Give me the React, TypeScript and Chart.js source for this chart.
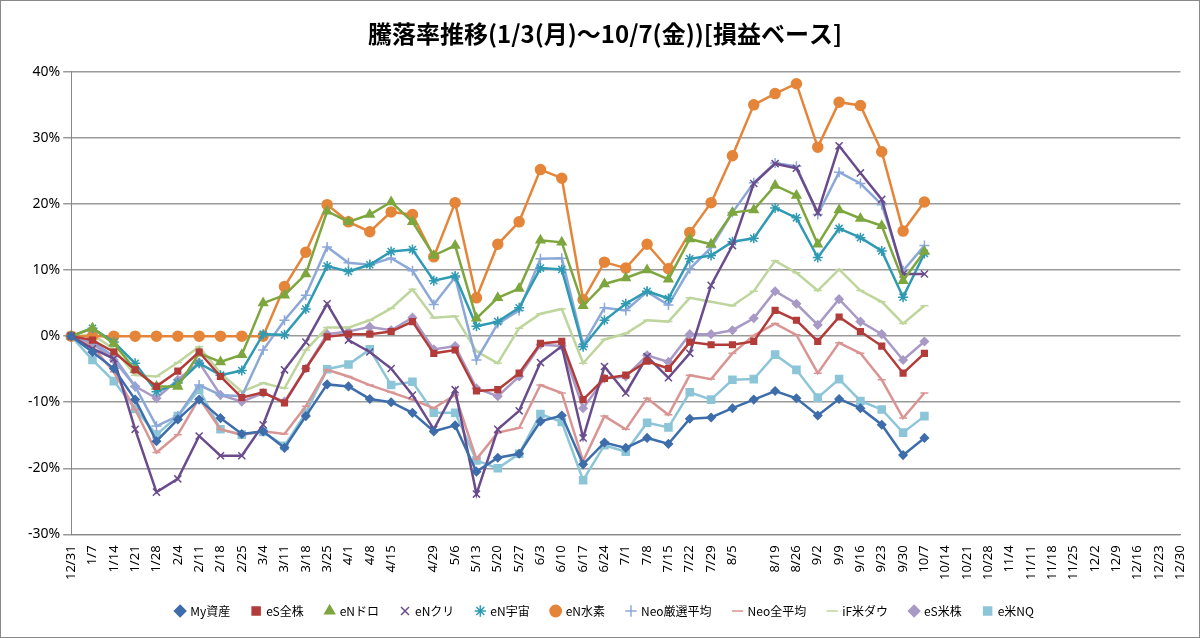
import React, { useEffect, useRef } from "react";
import { Chart, registerables } from "chart.js";
Chart.register(...registerables);

const labels = ["12/31","1/7","1/14","1/21","1/28","2/4","2/11","2/18","2/25","3/4","3/11","3/18","3/25","4/1","4/8","4/15","4/22","4/29","5/6","5/13","5/20","5/27","6/3","6/10","6/17","6/24","7/1","7/8","7/15","7/22","7/29","8/5","8/12","8/19","8/26","9/2","9/9","9/16","9/23","9/30","10/7","10/14","10/21","10/28","11/4","11/11","11/18","11/25","12/2","12/9","12/16","12/23","12/30"];
const hiddenLabels = ["4/22", "8/12"];

const myAsset = [0,-2.4,-4.9,-9.6,-15.9,-12.6,-9.6,-12.4,-14.8,-14.4,-16.9,-12.1,-7.3,-7.6,-9.5,-10,-11.6,-14.4,-13.5,-20.5,-18.4,-17.8,-12.9,-12,-19.4,-16.1,-16.9,-15.4,-16.3,-12.5,-12.3,-10.9,-9.6,-8.3,-9.4,-12,-9.5,-10.9,-13.4,-18,-15.4];
const esAll = [0,-0.6,-2.4,-5.1,-7.6,-5.3,-2.4,-6.1,-9.3,-8.5,-10.1,-4.9,-0.1,0.3,0.3,0.7,2.2,-2.6,-2.1,-8.3,-8.1,-5.6,-1.1,-0.8,-9.6,-6.4,-5.9,-3.8,-4.9,-0.9,-1.3,-1.3,-0.8,3.9,2.4,-0.8,2.9,0.7,-1.5,-5.6,-2.6];
const enDoro = [0,1.2,-1.1,-5.1,-7.6,-7.6,-2.6,-3.9,-2.8,5,6.2,9.4,18.9,17.3,18.4,20.3,17.3,12.2,13.7,2.7,5.8,7.2,14.5,14.2,4.6,7.9,8.8,10,8.6,14.7,13.9,18.7,19.1,22.8,21.3,13.9,19.1,17.8,16.7,8.4,12.8];
const enKuri = [0,-1.9,-3.4,-14.1,-23.6,-21.6,-15.1,-18.1,-18.1,-13.4,-5.1,-0.9,4.9,-0.6,-2.4,-4.9,-8.9,-14.1,-8.1,-23.9,-14.1,-11.3,-4,-1.5,-15.4,-4.6,-8.6,-3.1,-6.3,-2.6,7.7,13.7,23.1,26.1,25.4,18.7,28.8,24.7,20.7,9.4,9.4];
const enUchu = [0,1.2,-0.9,-4.1,-8.4,-7.1,-4.1,-5.9,-5.2,0.3,0.2,4.1,10.6,9.8,10.8,12.8,13.1,8.4,9.1,1.5,2.2,4.3,10.3,10.1,-1.6,2.4,4.9,6.8,5.7,11.7,12.2,14.3,14.8,19.4,17.9,11.9,16.3,14.9,12.9,5.9,12.5];
const enSuiso = [0,0,0,0,0,0,0,0,0,0,7.5,12.7,19.9,17.3,15.8,18.8,18.4,12,20.2,5.8,13.9,17.3,25.2,23.9,5.5,11.2,10.3,13.9,10.2,15.7,20.2,27.3,35,36.7,38.2,28.6,35.4,34.9,27.9,15.9,20.3];
const neoSelect = [0,-0.8,-3.1,-7.6,-13.6,-12.1,-7.4,-8.9,-9.1,-2.1,2.4,6.2,13.5,11.1,10.8,11.8,9.9,4.8,8.9,-3.6,1.9,3.9,11.7,11.8,-1.3,4.3,3.9,6.7,4.7,10.2,13.4,18.7,23.2,26.2,25.7,18.4,24.8,23.1,19.9,9.9,13.7];
const neoAll = [0,-1.6,-5.4,-11.1,-17.6,-14.9,-9.4,-14.1,-14.9,-14.4,-14.8,-10.6,-5.1,-6.1,-7.4,-8.5,-9.6,-10.9,-8.9,-18.6,-14.6,-13.9,-7.4,-8.6,-18.9,-12.1,-14.1,-9.4,-11.9,-5.9,-6.5,-2.6,0.1,1.9,0.2,-5.6,-1,-2.6,-6.6,-12.4,-8.6];
const ifDow = [0,0.2,-1.9,-5.9,-6.1,-4,-1.6,-5.6,-8.4,-7.1,-7.9,-2.1,1.3,1.3,2.4,4.2,7.1,2.8,3,-2.3,-4.1,1.2,3.4,4.1,-4.1,-0.5,0.4,2.4,2.2,5.8,5.2,4.6,6.8,11.4,9.6,6.9,10.1,6.9,5.2,1.9,4.6];
const esUs = [0,-1.1,-3.6,-7.6,-9.4,-6.6,-4,-8.9,-9.9,-8.6,-9.9,-4.9,0.3,0.7,1.4,0.9,2.8,-2,-1.5,-7.9,-9.1,-6.1,-1.3,-1.5,-10.9,-6.4,-6.1,-2.9,-3.9,0.3,0.3,0.9,2.7,6.8,4.9,1.7,5.6,2.2,0.3,-3.6,-0.8];
const eNq = [0,-3.6,-6.8,-11,-14.9,-12.1,-8.1,-14.1,-14.9,-14.5,-16.6,-11.6,-5,-4.3,-2,-7.4,-6.9,-11.6,-11.6,-18.8,-20,-17.8,-11.8,-13,-21.8,-16.5,-17.5,-13.1,-13.8,-8.5,-9.6,-6.6,-6.5,-2.8,-5.1,-9.3,-6.5,-9.8,-11.1,-14.6,-12.1];

const series = [
  { label: "My資産", data: myAsset, color: "#3D6DAA", style: "rectRot", r: 4 },
  { label: "eS全株", data: esAll, color: "#B23C3A", style: "rect", r: 4 },
  { label: "eNドロ", data: enDoro, color: "#7DA63F", style: "triangle", r: 5 },
  { label: "eNクリ", data: enKuri, color: "#6A4C8C", style: "crossRot", r: 5 },
  { label: "eN宇宙", data: enUchu, color: "#2F9AB3", style: "star", r: 5 },
  { label: "eN水素", data: enSuiso, color: "#E4853A", style: "circle", r: 5 },
  { label: "Neo厳選平均", data: neoSelect, color: "#8CA8D8", style: "cross", r: 5 },
  { label: "Neo全平均", data: neoAll, color: "#D99593", style: "line", r: 4 },
  { label: "iF米ダウ", data: ifDow, color: "#BED59C", style: "line", r: 4 },
  { label: "eS米株", data: esUs, color: "#A899C6", style: "rectRot", r: 4 },
  { label: "e米NQ", data: eNq, color: "#8DC5D8", style: "rect", r: 5 },
];

export default function App() {
  const ref = useRef<HTMLCanvasElement>(null);
  useEffect(() => {
    document.body.style.margin = "0";
    const chart = new Chart(ref.current!, {
      type: "line",
      data: {
        labels,
        datasets: series.map((s) => ({
          label: s.label,
          data: s.data,
          borderColor: s.color,
          backgroundColor: s.color,
          borderWidth: 2.5,
          pointStyle: s.style as any,
          pointRadius: s.r,
          pointBorderWidth: 1.5,
          tension: 0,
        })),
      },
      options: {
        animation: false,
        responsive: false,
        layout: { padding: { left: 24, right: 14, top: 6, bottom: 10 } },
        plugins: {
          title: {
            display: true,
            text: "騰落率推移(1/3(月)～10/7(金))[損益ベース]",
            color: "#000",
            font: { family: "Noto Sans CJK JP", size: 24, weight: "bold" },
            padding: { top: 12, bottom: 24 },
          },
          legend: {
            position: "bottom",
            labels: {
              usePointStyle: true,
              boxWidth: 8,
              boxHeight: 8,
              padding: 22,
              color: "#000",
              font: { family: "Noto Sans CJK JP", size: 12 },
            },
          },
          tooltip: { enabled: false },
        },
        scales: {
          x: {
            grid: { display: false },
            border: { color: "#888" },
            ticks: {
              autoSkip: false,
              minRotation: 90,
              maxRotation: 90,
              color: "#000",
              font: { family: "Noto Sans", size: 13 },
              callback: (v: any) => {
                const l = labels[v as number];
                return hiddenLabels.includes(l) ? "" : l;
              },
            },
          },
          y: {
            min: -30,
            max: 40,
            grid: { color: "#9a9a9a", lineWidth: 1.5 },
            border: { color: "#888" },
            ticks: {
              stepSize: 10,
              color: "#000",
              font: { family: "Noto Sans", size: 14 },
              callback: (v: any) => v + "%",
            },
          },
        },
      },
    });
    return () => chart.destroy();
  }, []);
  return (
    <div style={{ width: 1198, height: 636, border: "1px solid #888" }}>
      <canvas ref={ref} width={1198} height={636} style={{ display: "block" }} />
    </div>
  );
}
